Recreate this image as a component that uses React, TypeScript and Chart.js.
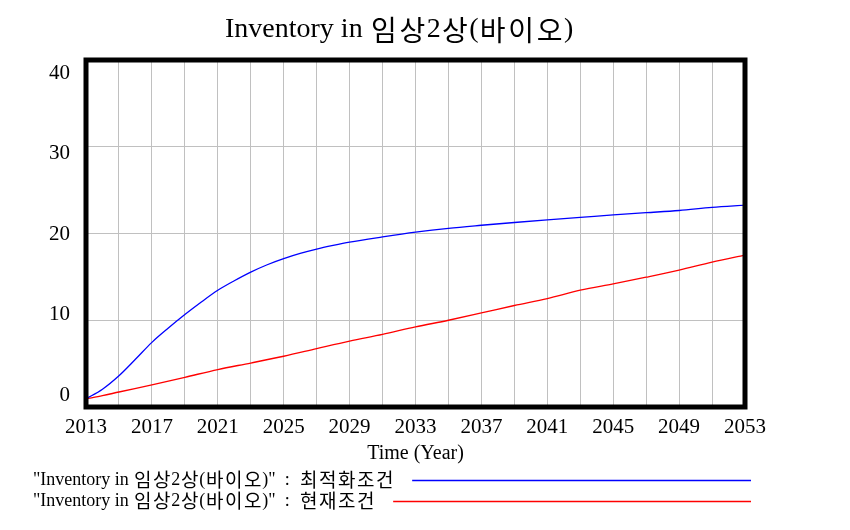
import React, { useEffect, useRef } from "react";
import { Chart, registerables } from "chart.js";

Chart.register(...registerables);

const titleText = "Inventory in 임상2상(바이오)";
const xAxisTitle = "Time (Year)";
const variableName = '"Inventory in 임상2상(바이오)"';
const runNames = ["최적화조건", "현재조건"];
const seriesColors = ["#0000ff", "#ff0000"];

const xMin = 2013;
const xMax = 2053;
const yTickValues = [0, 10, 20, 30, 40];
const yTickLabels = ["0", "10", "20", "30", "40"];

const optimalYears = [
  2013, 2014, 2015, 2016, 2017, 2018, 2019, 2020, 2021, 2022, 2023, 2024, 2025, 2026, 2027,
  2028, 2029, 2031, 2033, 2035, 2037, 2039, 2041, 2043, 2045, 2047, 2049, 2051, 2053,
];
const optimalValues = [
  0.95, 2.05, 3.6, 5.5, 7.45, 9.1, 10.65, 12.1, 13.45, 14.55, 15.55, 16.4, 17.1, 17.7, 18.2,
  18.62, 19.0, 19.6, 20.15, 20.6, 20.95, 21.27, 21.57, 21.85, 22.15, 22.4, 22.65, 23.0, 23.26,
];

const currentYears = [
  2013, 2014, 2015, 2017, 2019, 2021, 2023, 2025, 2027, 2029, 2031, 2033, 2035, 2037, 2039,
  2041, 2043, 2045, 2047, 2049, 2051, 2053,
];
const currentValues = [
  0.95, 1.3, 1.73, 2.55, 3.42, 4.32, 5.07, 5.85, 6.73, 7.6, 8.38, 9.23, 10.0, 10.84, 11.7,
  12.5, 13.46, 14.2, 14.96, 15.77, 16.7, 17.5,
];

const SERIF = "'Liberation Serif', 'Times New Roman', serif";
const KFONT = "'Noto Sans CJK KR', sans-serif";

function isHangul(ch: string) {
  const c = ch.charCodeAt(0);
  return (c >= 0xac00 && c <= 0xd7a3) || (c >= 0x3130 && c <= 0x318f);
}

// draws text char by char: Latin in serif, Hangul in CJK font with fixed advance
function drawMixed(
  ctx: CanvasRenderingContext2D,
  text: string,
  x: number,
  y: number,
  latinPx: number,
  hangulPx: number,
  hangulAdv: number
) {
  let cx = x;
  for (const ch of Array.from(text)) {
    if (isHangul(ch)) {
      ctx.font = `${hangulPx}px ${KFONT}`;
      const w = ctx.measureText(ch).width;
      ctx.fillText(ch, cx + (hangulAdv - w) / 2, y);
      cx += hangulAdv;
    } else {
      ctx.font = `${latinPx}px ${SERIF}`;
      ctx.fillText(ch, cx, y);
      cx += ctx.measureText(ch).width;
    }
  }
  return cx;
}

const decorPlugin = {
  id: "decor",
  afterDraw(chart: any) {
    const { ctx, chartArea, scales } = chart;
    const { left, right, top, bottom } = chartArea;
    ctx.save();
    // frame
    ctx.strokeStyle = "#000";
    ctx.lineWidth = 5;
    ctx.strokeRect(left, top, right - left, bottom - top);

    // title
    ctx.fillStyle = "#000";
    ctx.textAlign = "left";
    ctx.textBaseline = "middle";
    drawMixed(ctx, titleText, 225, 30, 28, 28, 28.5);

    // y tick labels (Vensim style: compressed inside the frame)
    ctx.font = `21px ${SERIF}`;
    ctx.textAlign = "right";
    const yMax = scales.y.max;
    const yMin = scales.y.min;
    const lt = top + 13;
    const lb = bottom - 12;
    yTickValues.forEach((v, i) => {
      const yy = lt + ((yMax - v) / (yMax - yMin)) * (lb - lt);
      ctx.fillText(yTickLabels[i], left - 16, yy);
    });

    // legend
    ctx.textAlign = "left";
    const legendY = [480, 501];
    runNames.forEach((run, i) => {
      ctx.fillStyle = "#000";
      const xEnd = drawMixed(ctx, variableName, 33, legendY[i], 18, 19, 19);
      ctx.font = `18px ${SERIF}`;
      ctx.fillText(":", xEnd + 9, legendY[i]);
      const runEnd = drawMixed(ctx, run, xEnd + 23.5, legendY[i], 18, 19, 19);
      ctx.strokeStyle = seriesColors[i];
      ctx.lineWidth = 1.3;
      ctx.beginPath();
      ctx.moveTo(runEnd + 18, legendY[i] + 0.5);
      ctx.lineTo(751, legendY[i] + 0.5);
      ctx.stroke();
    });
    ctx.restore();
  },
};

export default function App() {
  const canvasRef = useRef<HTMLCanvasElement | null>(null);

  useEffect(() => {
    document.body.style.margin = "0";
    const canvas = canvasRef.current;
    if (!canvas) return;
    const chart = new Chart(canvas, {
      type: "line",
      data: {
        datasets: [
          {
            label: runNames[0],
            data: optimalYears.map((x, i) => ({ x, y: optimalValues[i] })),
            borderColor: seriesColors[0],
            borderWidth: 1.3,
            pointRadius: 0,
            cubicInterpolationMode: "monotone",
            fill: false,
          },
          {
            label: runNames[1],
            data: currentYears.map((x, i) => ({ x, y: currentValues[i] })),
            borderColor: seriesColors[1],
            borderWidth: 1.3,
            pointRadius: 0,
            cubicInterpolationMode: "monotone",
            fill: false,
          },
        ],
      },
      options: {
        responsive: false,
        animation: false,
        layout: { padding: { top: 60, right: 105, left: 0, bottom: 0 } },
        plugins: {
          legend: { display: false },
          title: { display: false },
          tooltip: { enabled: false },
        },
        scales: {
          x: {
            type: "linear",
            min: xMin,
            max: xMax,
            afterFit: (s: any) => {
              s.height = 123;
            },
            grid: { color: "#c0c0c0", lineWidth: 1, drawTicks: false },
            border: { display: false },
            ticks: {
              stepSize: 2,
              autoSkip: false,
              maxRotation: 0,
              padding: 8,
              color: "#000",
              font: { family: SERIF, size: 21 },
              callback: (v: any) => ((Number(v) - xMin) % 4 === 0 ? String(v) : ""),
            },
            title: {
              display: true,
              text: xAxisTitle,
              color: "#000",
              font: { family: SERIF, size: 20 },
              padding: { top: 0, bottom: 64 },
            },
          },
          y: {
            type: "linear",
            min: 0,
            max: 40,
            afterFit: (s: any) => {
              s.width = 86;
            },
            grid: { color: "#c0c0c0", lineWidth: 1, drawTicks: false },
            border: { display: false },
            ticks: { stepSize: 10, display: false },
          },
        },
      },
      plugins: [decorPlugin],
    });
    return () => chart.destroy();
  }, []);

  return (
    <canvas
      ref={canvasRef}
      width={850}
      height={530}
      style={{ display: "block", width: 850, height: 530 }}
    />
  );
}
